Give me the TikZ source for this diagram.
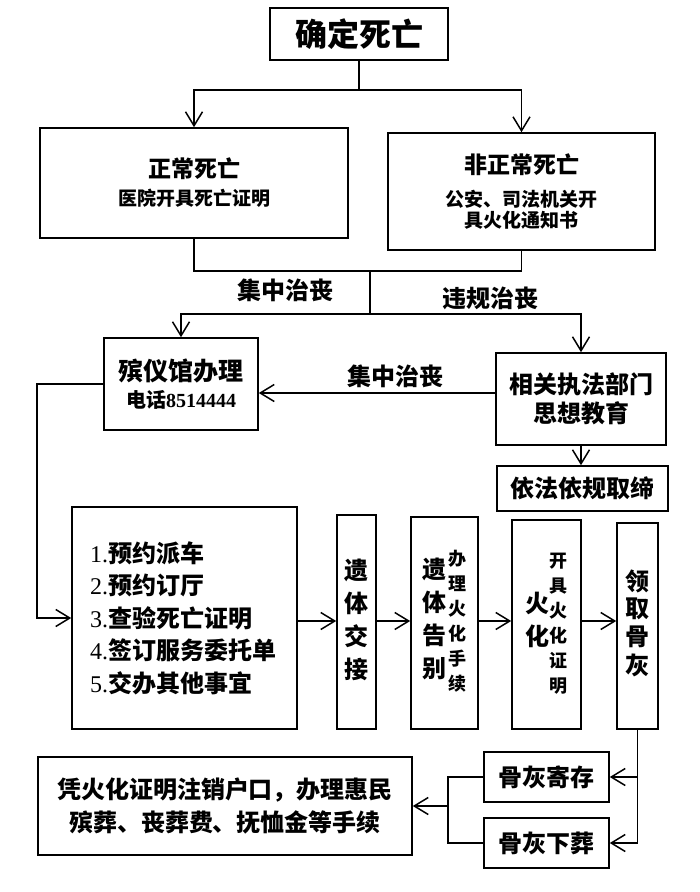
\documentclass[tikz,border=0pt]{standalone}
\usepackage{fontspec}
\setmainfont{Liberation Serif}
\newfontfamily\cjk{Noto Sans CJK SC}
\usetikzlibrary{arrows.meta}
\newcommand\fs[2]{\fontsize{#1}{#2}\selectfont}
\newcommand\vcol[3]{{\fontsize{#1}{#2}\selectfont\begin{tabular}{@{}c@{}}#3\end{tabular}}}
\begin{document}
\begin{tikzpicture}[x=1pt,y=-1pt,
  box/.style={draw, line width=1.6pt, inner sep=0pt, align=center, font=\cjk\bfseries},
  conn/.style={line width=1.5pt},
  arr/.style={conn, -{Straight Barb[length=14pt,width=17pt,line width=1.5pt]}},
  lbl/.style={font=\cjk\bfseries\fs{24}{28}, inner sep=0pt}]
\fill[white] (0,0) rectangle (700,892);
\useasboundingbox (0,0) rectangle (700,892);

% nodes
\node[box, minimum width=178pt, minimum height=52pt] (top) at (359,34) {\fs{32}{36}确定死亡};
\node[box, minimum width=308pt, minimum height=110pt, font=\cjk\bfseries\fs{19}{28}] (normal) at (194,183)
  {{\fs{23}{28}正常死亡}\\医院开具死亡证明};
\node[box, minimum width=267pt, minimum height=117pt, font=\cjk\bfseries\fs{19}{21}] (abnormal) at (521.5,191.5)
  {{\fs{23}{21}非正常死亡}\\[12pt]公安、司法机关开\\具火化通知书};
\node[box, minimum width=154pt, minimum height=92pt, font=\cjk\bfseries\fs{20}{27}] (funeral) at (181,384)
  {{\fs{25}{27}殡仪馆办理}\\电话{\rmfamily\bfseries 8514444}};
\node[box, minimum width=170pt, minimum height=92pt, font=\cjk\bfseries\fs{24}{29}] (law) at (581,399)
  {相关执法部门\\思想教育};
\node[box, minimum width=171pt, minimum height=45pt, font=\cjk\bfseries\fs{24}{28}] (ban) at (582.5,488.5)
  {依法依规取缔};
\node[box, minimum width=225pt, minimum height=222pt, text width=189pt, inner xsep=18pt,
  align=left, font=\cjk\bfseries\fs{24}{32.5}] (big) at (184.5,618)
  {{\rmfamily\mdseries 1.}预约派车\\{\rmfamily\mdseries 2.}预约订厅\\{\rmfamily\mdseries 3.}查验死亡证明\\{\rmfamily\mdseries 4.}签订服务委托单\\{\rmfamily\mdseries 5.}交办其他事宜};
\node[box, minimum width=39pt, minimum height=214pt] (hand) at (356.5,622)
  {\vcol{24}{33}{遗\\体\\交\\接}};
\node[box, minimum width=67pt, minimum height=212pt] (fare) at (444.5,623)
  {\vcol{24}{33}{遗\\体\\告\\别}\hspace{2pt}\vcol{18}{25}{办\\理\\火\\化\\手\\续}};
\node[box, minimum width=69pt, minimum height=209pt] (fire) at (546.5,624.5)
  {\vcol{24}{33}{火\\化}\vcol{18}{25}{开\\具\\火\\化\\证\\明}};
\node[box, minimum width=41pt, minimum height=206pt] (ash) at (637.5,626)
  {\vcol{24}{27}{领\\取\\骨\\灰}};
\node[box, minimum width=125pt, minimum height=50pt, font=\cjk\bfseries\fs{24}{28}] (store) at (546.5,777) {骨灰寄存};
\node[box, minimum width=125pt, minimum height=50pt, font=\cjk\bfseries\fs{24}{28}] (bury) at (546.5,843) {骨灰下葬};
\node[box, minimum width=374pt, minimum height=98pt, font=\cjk\bfseries\fs{24}{33}] (final) at (225,806)
  {凭火化证明注销户口，办理惠民\\殡葬、丧葬费、抚恤金等手续};

% labels
\node[lbl] (l1) at (285,290) {集中治丧};
\node[lbl] (l2) at (490,298) {违规治丧};
\node[lbl] (l3) at (395,376) {集中治丧};

% connectors
\coordinate (s1) at (359,90);
\draw[conn] (top.south) -- (s1);
\draw[arr] (s1) -| (normal.north);
\draw[arr] (s1) -| (abnormal.north);
\coordinate (m1) at (370,271);
\coordinate (m2) at (370,314);
\draw[conn] (normal.south) |- (m1) -| (abnormal.south);
\draw[conn] (m1) -- (m2);
\draw[arr] (m2) -| (funeral.north);
\draw[arr] (m2) -| (law.north);
\draw[arr] ([yshift=6pt]law.west) -- ([yshift=6pt]law.west -| funeral.east);
\draw[arr] (law.south) -- (law.south |- ban.north);
\coordinate (lx) at (37,0);
\draw[arr] (funeral.west) -| (lx |- big.west) -- (big.west);
\coordinate (ar) at (0,621);
\draw[arr] (big.east |- ar) -- (hand.west |- ar);
\draw[arr] (hand.east |- ar) -- (fare.west |- ar);
\draw[arr] (fare.east |- ar) -- (fire.west |- ar);
\draw[arr] (fire.east |- ar) -- (ash.west |- ar);
\draw[arr] (ash.south) |- (store.east);
\draw[arr] (ash.south) |- (bury.east);
\coordinate (jx) at (448,0);
\draw[conn] (store.west) -| (jx |- bury.west) -- (bury.west);
\draw[arr] (jx |- final.east) -- (final.east);
\end{tikzpicture}
\end{document}
